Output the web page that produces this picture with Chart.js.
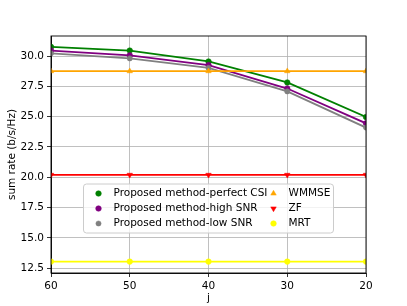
<!DOCTYPE html>
<html>
<head>
<meta charset="utf-8">
<script src="https://cdn.jsdelivr.net/npm/chart.js@4/dist/chart.umd.min.js"></script>
<style>
html,body{margin:0;padding:0;background:#fff;}
#wrap{width:407px;height:306px;position:relative;}
</style>
</head>
<body>
<div id="wrap"><canvas id="c" width="407" height="306"></canvas></div>
<script>
const categories = [60, 50, 40, 30, 20];
const perfectCSI = [30.75, 30.45, 29.55, 27.82, 24.97];
const highSNR   = [30.45, 30.05, 29.25, 27.32, 24.45];
const lowSNR    = [30.22, 29.80, 29.02, 27.08, 24.10];
const wmmse     = [28.75, 28.75, 28.75, 28.75, 28.75];
const zf        = [20.20, 20.20, 20.20, 20.20, 20.20];
const mrt       = [13.05, 13.05, 13.05, 13.05, 13.05];
const xTicks = [60, 50, 40, 30, 20];
const yTicks = [12.5, 15.0, 17.5, 20.0, 22.5, 25.0, 27.5, 30.0];
const seriesNames = ['Proposed method-perfect CSI', 'Proposed method-high SNR', 'Proposed method-low SNR', 'WMMSE', 'ZF', 'MRT'];

const FONT = 'DejaVu Sans';
const FS = 10.5;

function pts(arr){ return categories.map((x,i)=>({x:x, y:arr[i]})); }

const styles = [
  {color:'#008000', pointStyle:'circle', rot:0, r:2.8},
  {color:'#800080', pointStyle:'circle', rot:0, r:2.8},
  {color:'#808080', pointStyle:'circle', rot:0, r:2.6},
  {color:'#FFA500', pointStyle:'triangle', rot:0, r:3.2},
  {color:'#FF0000', pointStyle:'triangle', rot:180, r:3.2},
  {color:'#FFFF00', pointStyle:'circle', rot:0, r:2.8}
];
const allData = [perfectCSI, highSNR, lowSNR, wmmse, zf, mrt];

const datasets = allData.map((d,i)=>({
  label: seriesNames[i],
  data: pts(d),
  borderColor: styles[i].color,
  backgroundColor: styles[i].color,
  pointBackgroundColor: styles[i].color,
  pointBorderColor: styles[i].color,
  pointStyle: styles[i].pointStyle,
  rotation: styles[i].rot,
  pointRadius: styles[i].r,
  borderWidth: 1.8,
  pointBorderWidth: 0.5,
  tension: 0,
  order: 6 - i
}));

function drawMarker(ctx, st, x, y){
  ctx.save();
  ctx.fillStyle = st.color;
  ctx.strokeStyle = st.color;
  ctx.lineWidth = 0.5;
  if (Chart.helpers && Chart.helpers.drawPoint) {
    Chart.helpers.drawPoint(ctx, {pointStyle: st.pointStyle, rotation: st.rot, radius: st.r, borderWidth: 0.5}, x, y);
  } else {
    ctx.beginPath(); ctx.arc(x, y, st.r, 0, Math.PI*2); ctx.fill();
  }
  ctx.restore();
}

const framePlugin = {
  id: 'frame',
  afterDraw(chart){
    const {ctx, chartArea:a} = chart;
    ctx.save();
    ctx.strokeStyle = '#000';
    ctx.lineWidth = 0.9;
    ctx.strokeRect(a.left, a.top, a.right - a.left, a.bottom - a.top);
    ctx.restore();
    // legend
    const bw = 250, bh = 49;
    const bx = (a.left + a.right)/2 - bw/2;
    const by = a.bottom - 40 - bh;
    ctx.save();
    ctx.beginPath();
    const rr = 3;
    ctx.moveTo(bx+rr, by);
    ctx.lineTo(bx+bw-rr, by); ctx.quadraticCurveTo(bx+bw, by, bx+bw, by+rr);
    ctx.lineTo(bx+bw, by+bh-rr); ctx.quadraticCurveTo(bx+bw, by+bh, bx+bw-rr, by+bh);
    ctx.lineTo(bx+rr, by+bh); ctx.quadraticCurveTo(bx, by+bh, bx, by+bh-rr);
    ctx.lineTo(bx, by+rr); ctx.quadraticCurveTo(bx, by, bx+rr, by);
    ctx.closePath();
    ctx.fillStyle = 'rgba(255,255,255,0.8)';
    ctx.fill();
    ctx.strokeStyle = '#cccccc';
    ctx.lineWidth = 1;
    ctx.stroke();
    ctx.font = FS + 'px "' + FONT + '"';
    ctx.fillStyle = '#000';
    ctx.textBaseline = 'middle';
    ctx.textAlign = 'left';
    for (let i = 0; i < 6; i++) {
      const col = Math.floor(i/3), row = i % 3;
      const mx = bx + 15 + col*175;
      const ty = by + 9.5 + row*15;
      drawMarker(ctx, styles[i], mx, ty);
      ctx.fillStyle = '#000';
      ctx.fillText(seriesNames[i], mx + 15, ty);
    }
    ctx.restore();
  }
};

new Chart(document.getElementById('c'), {
  type: 'line',
  data: { datasets },
  options: {
    responsive: false,
    animation: false,
    devicePixelRatio: 1,
    layout: { padding: { top: 36, right: 41, left: 0, bottom: 0 } },
    plugins: { legend: { display: false }, tooltip: { enabled: false } },
    scales: {
      x: {
        type: 'linear',
        reverse: true,
        min: 20, max: 60,
        afterBuildTicks(s){ s.ticks = xTicks.map(v=>({value:v})); },
        afterFit(s){ s.height = 33; },
        grid: { color: '#b0b0b0', lineWidth: 0.8, tickColor: '#000', tickLength: 4, drawTicks: true },
        border: { display: true, color: '#000', width: 0.9 },
        ticks: { color: '#000', font: { family: FONT, size: FS }, padding: 3, maxRotation: 0, callback: v => String(v) },
        title: { display: true, text: 'j', color: '#000', font: { family: FONT, size: FS }, padding: { top: 0, bottom: 1 } }
      },
      y: {
        type: 'linear',
        min: 12.11, max: 31.65,
        afterBuildTicks(s){ s.ticks = yTicks.map(v=>({value:v})); },
        afterFit(s){ s.width = 51; },
        grid: { color: '#b0b0b0', lineWidth: 0.8, tickColor: '#000', tickLength: 4 },
        border: { display: true, color: '#000', width: 0.9 },
        ticks: { color: '#000', font: { family: FONT, size: FS }, padding: 3, callback: v => Number(v).toFixed(1) },
        title: { display: true, text: 'sum rate (b/s/Hz)', color: '#000', font: { family: FONT, size: FS }, padding: { top: 6, bottom: 0 } }
      }
    }
  },
  plugins: [framePlugin]
});
</script>
</body>
</html>
